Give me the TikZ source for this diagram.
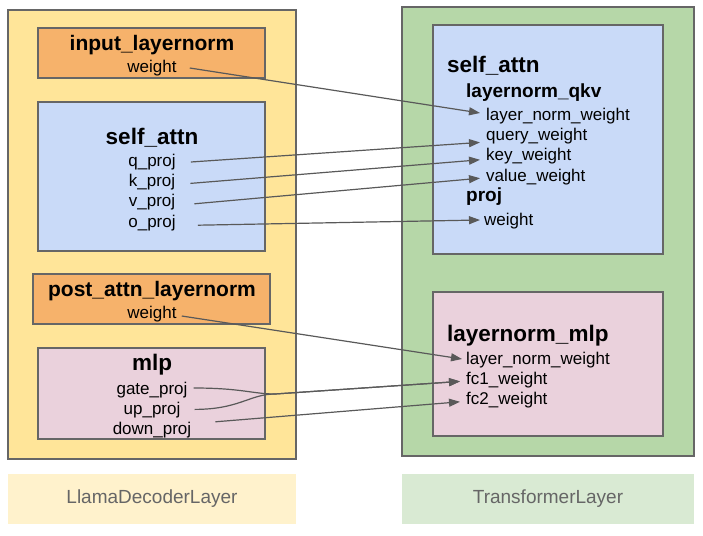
\documentclass[tikz,border=0pt]{standalone}
\usepackage{fontspec}
\setmainfont{Liberation Sans}
\usetikzlibrary{arrows.meta,positioning}

\definecolor{outeryellow}{HTML}{FFE599}
\definecolor{outergreen}{HTML}{B6D7A8}
\definecolor{lnorange}{HTML}{F6B26B}
\definecolor{attnblue}{HTML}{C9DAF8}
\definecolor{mlppink}{HTML}{EAD1DC}
\definecolor{tagyellow}{HTML}{FFF2CC}
\definecolor{taggreen}{HTML}{D9EAD3}
\definecolor{edgegray}{HTML}{666666}
\definecolor{arrowgray}{HTML}{595959}

\begin{document}
\begin{tikzpicture}[x=1pt, y=-1pt, >={Triangle[length=11pt,width=8pt]},
	box/.style={draw=edgegray, line width=1.2pt},
	field/.style={font=\fontsize{17}{19}\selectfont, text height=12pt, text depth=4pt, inner xsep=2pt, inner ysep=2pt},
	head/.style={font=\bfseries\fontsize{21}{23}\selectfont, inner sep=2pt},
	smallhead/.style={font=\bfseries\fontsize{19}{21}\selectfont, inner sep=2pt},
	bighead/.style={font=\bfseries\fontsize{22.5}{24}\selectfont, inner sep=2pt},
	tag/.style={font=\fontsize{19}{21}\selectfont, text=edgegray, inner sep=0pt},
	link/.style={->, draw=arrowgray, line width=1.2pt}]

		\useasboundingbox (0,0) rectangle (703,535);

		\path[box, fill=outeryellow] (8,10) rectangle (296,459);
		\path[box, fill=lnorange] (38,28) rectangle (265,78);
		\path[box, fill=attnblue] (38,102) rectangle (265,251);
		\path[box, fill=lnorange] (33,274) rectangle (270,324);
		\path[box, fill=mlppink] (38,348) rectangle (265,439);

		\path[box, fill=outergreen] (402,7) rectangle (694,456);
		\path[box, fill=attnblue] (433,25) rectangle (663,254);
		\path[box, fill=mlppink] (433,292) rectangle (663,436);

		\node[tag, fill=tagyellow, minimum width=288pt, minimum height=50pt] (llamatag) at (152,499) {LlamaDecoderLayer};
		\node[tag, fill=taggreen, minimum width=292pt, minimum height=50pt] (transtag) at (548,499) {TransformerLayer};

		% LlamaDecoderLayer
		\node[head] (inln) at (152,45) {input\_layernorm};
		\node[field] (inlnw) at (152,68) {weight};
		\node[bighead] (lattn) at (152,138) {self\_attn};
		\node[field] (qproj) at (152,162) {q\_proj};
		\node[field, below=0pt of qproj] (kproj) {k\_proj};
		\node[field, below=0pt of kproj] (vproj) {v\_proj};
		\node[field, below=0pt of vproj] (oproj) {o\_proj};
		\node[head] (pln) at (152,291) {post\_attn\_layernorm};
		\node[field] (plnw) at (152,314) {weight};
		\node[bighead] (lmlp) at (152,365) {mlp};
		\node[field] (gate) at (152,390) {gate\_proj};
		\node[field, below=0pt of gate] (up) {up\_proj};
		\node[field, below=0pt of up] (down) {down\_proj};

		% TransformerLayer
		\node[bighead, anchor=west] (rattn) at (445,66) {self\_attn};
		\node[smallhead, anchor=west] (qkv) at (464,93) {layernorm\_qkv};
		\node[field, anchor=west] (lnw) at (484,116) {layer\_norm\_weight};
		\node[field, below=0pt of lnw.south west, anchor=north west] (qw) {query\_weight};
		\node[field, below=0pt of qw.south west, anchor=north west] (kw) {key\_weight};
		\node[field, below=0pt of kw.south west, anchor=north west] (vw) {value\_weight};
		\node[smallhead, anchor=west] (proj) at (464,197) {proj};
		\node[field, anchor=west] (pw) at (482,221) {weight};
		\node[bighead, anchor=west] (rmlp) at (445,336) {layernorm\_mlp};
		\node[field, anchor=west] (mlnw) at (464,360) {layer\_norm\_weight};
		\node[field, below=0pt of mlnw.south west, anchor=north west] (fc1) {fc1\_weight};
		\node[field, below=0pt of fc1.south west, anchor=north west] (fc2) {fc2\_weight};

		\coordinate (fcjoin) at (275,394);

		\draw[link] ([xshift=11pt]inlnw.east) -- ([xshift=-4pt,yshift=3pt]lnw.west);
		\draw[link] ([xshift=13pt]qproj.east) -- ([xshift=-4pt,yshift=-6pt]qw.west);
		\draw[link] ([xshift=13pt,yshift=-1pt]kproj.east) -- ([xshift=-4pt,yshift=-3pt]kw.west);
		\draw[link] ([xshift=17pt,yshift=-1pt]vproj.east) -- ([xshift=-4pt,yshift=-1pt]vw.west);
		\draw[link] ([xshift=20pt,yshift=-2pt]oproj.east) -- ([xshift=-2pt,yshift=1pt]pw.west);
		\draw[link] ([xshift=3pt,yshift=-2pt]plnw.east) -- ([xshift=-2pt,yshift=1pt]mlnw.west);
		\draw[link] ([xshift=4pt,yshift=2pt]gate.east) .. controls +(48,0) and +(-22,0) .. (fcjoin) -- ([xshift=-4pt,yshift=-1pt]fc1.west);
		\draw[link] ([xshift=12pt,yshift=1pt]up.east) .. controls +(45,0) and +(-25,0) .. (fcjoin) -- ([xshift=-4pt,yshift=-1pt]fc1.west);
		\draw[link] ([xshift=22pt,yshift=9pt]down.east) -- ([xshift=-4pt,yshift=-1pt]fc2.west);

\end{tikzpicture}
\end{document}
